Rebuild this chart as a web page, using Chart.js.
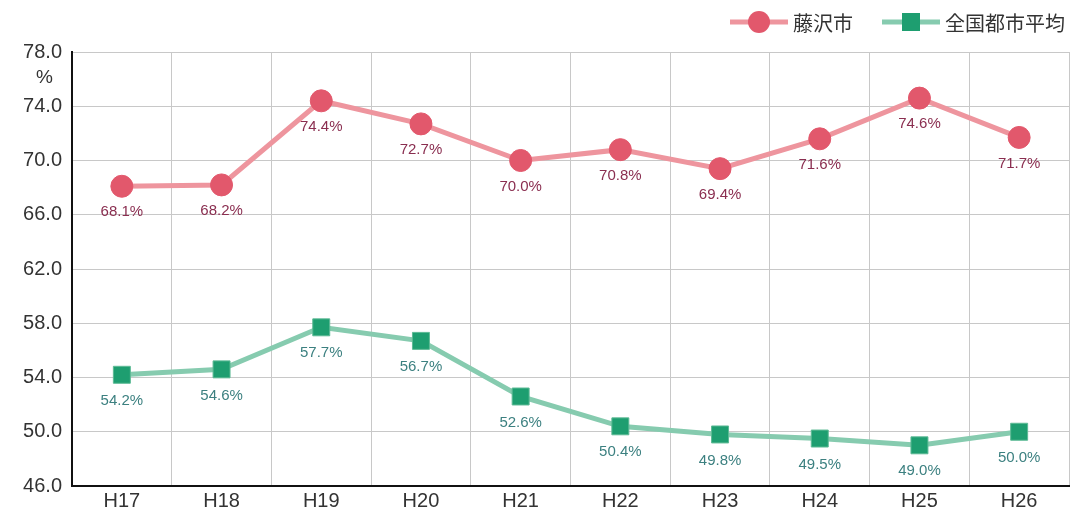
<!DOCTYPE html>
<html>
<head>
<meta charset="utf-8">
<script src="https://cdn.jsdelivr.net/npm/chart.js@4.4.1/dist/chart.umd.min.js"></script>
<style>
html,body{margin:0;padding:0;background:#fff;}
#wrap{width:1082px;height:516px;position:relative;}
</style>
</head>
<body>
<div id="wrap"><canvas id="c" width="1082" height="516"></canvas></div>
<script>
const categories = ["H17","H18","H19","H20","H21","H22","H23","H24","H25","H26"];
const fujisawa = [68.1, 68.2, 74.4, 72.7, 70.0, 70.8, 69.4, 71.6, 74.6, 71.7];
const national = [54.2, 54.6, 57.7, 56.7, 52.6, 50.4, 49.8, 49.5, 49.0, 50.0];
const seriesNames = ["藤沢市", "全国都市平均"];
const yTicks = [46, 50, 54, 58, 62, 66, 70, 74, 78];

const FONT = "'Liberation Sans', 'Noto Sans CJK JP', sans-serif";
const pinkLine = "#EE959E", pinkPoint = "#E2586C", pinkLabel = "#8A2E50";
const greenLine = "#86CBAF", greenPoint = "#1E9E70", greenLabel = "#3C8080";

const labelPlugin = {
  id: "extras",
  afterDatasetsDraw(chart) {
    const ctx = chart.ctx;
    ctx.save();
    ctx.font = "15px " + FONT;
    ctx.textAlign = "center";
    ctx.textBaseline = "middle";
    chart.data.datasets.forEach((ds, i) => {
      const meta = chart.getDatasetMeta(i);
      ctx.fillStyle = i === 0 ? pinkLabel : greenLabel;
      meta.data.forEach((pt, j) => {
        ctx.fillText(ds.data[j].toFixed(1) + "%", pt.x, pt.y + 26);
      });
    });
    // % unit under top tick
    const ys = chart.scales.y;
    ctx.fillStyle = "#333";
    ctx.font = "19px " + FONT;
    ctx.textAlign = "right";
    ctx.fillText("%", 53, ys.getPixelForValue(78) + 26);
    // legend
    const items = [
      {name: seriesNames[0], line: pinkLine, pt: pinkPoint, shape: "circle", x: 730},
      {name: seriesNames[1], line: greenLine, pt: greenPoint, shape: "square", x: 882}
    ];
    const ly = 22;
    items.forEach(it => {
      ctx.strokeStyle = it.line;
      ctx.lineWidth = 5;
      ctx.beginPath();
      ctx.moveTo(it.x, ly);
      ctx.lineTo(it.x + 58, ly);
      ctx.stroke();
      ctx.fillStyle = it.pt;
      if (it.shape === "circle") {
        ctx.beginPath();
        ctx.arc(it.x + 29, ly, 11, 0, Math.PI * 2);
        ctx.fill();
      } else {
        ctx.fillRect(it.x + 29 - 9, ly - 9, 18, 18);
      }
      ctx.fillStyle = "#333";
      ctx.font = "20px 'Noto Sans CJK JP', sans-serif";
      ctx.textAlign = "left";
      ctx.fillText(it.name, it.x + 63, ly + 1);
    });
    ctx.restore();
  }
};

new Chart(document.getElementById("c"), {
  type: "line",
  data: {
    labels: categories,
    datasets: [
      {
        label: seriesNames[0], data: fujisawa,
        borderColor: pinkLine, borderWidth: 5,
        pointStyle: "circle", pointRadius: 11, pointBackgroundColor: pinkPoint,
        pointBorderColor: pinkPoint, pointBorderWidth: 1, tension: 0
      },
      {
        label: seriesNames[1], data: national,
        borderColor: greenLine, borderWidth: 5,
        pointStyle: "rect", pointRadius: 12, pointBackgroundColor: greenPoint,
        pointBorderColor: "#5DBA95", pointBorderWidth: 1, tension: 0
      }
    ]
  },
  options: {
    responsive: false,
    animation: false,
    devicePixelRatio: 1,
    layout: {padding: {top: 52, right: 8, bottom: 0, left: 0}},
    plugins: {legend: {display: false}, tooltip: {enabled: false}},
    scales: {
      x: {
        offset: true,
        afterFit(s) { s.paddingRight = 0; s.paddingLeft = 0; },
        grid: {color: "#c8c8c8", lineWidth: 1, offset: true, drawTicks: false},
        border: {color: "#111", width: 2},
        ticks: {color: "#333", font: {size: 20, family: FONT, lineHeight: 1.1}, padding: 4}
      },
      y: {
        min: 46, max: 78,
        afterBuildTicks(s) { s.ticks = yTicks.map(v => ({value: v})); },
        afterFit(s) { s.width = 72; },
        grid: {color: "#c8c8c8", lineWidth: 1, drawTicks: false},
        border: {color: "#111", width: 2},
        ticks: {color: "#333", font: {size: 20, family: FONT}, padding: 10,
          callback: v => Number(v).toFixed(1)}
      }
    }
  },
  plugins: [labelPlugin]
});
</script>
</body>
</html>
